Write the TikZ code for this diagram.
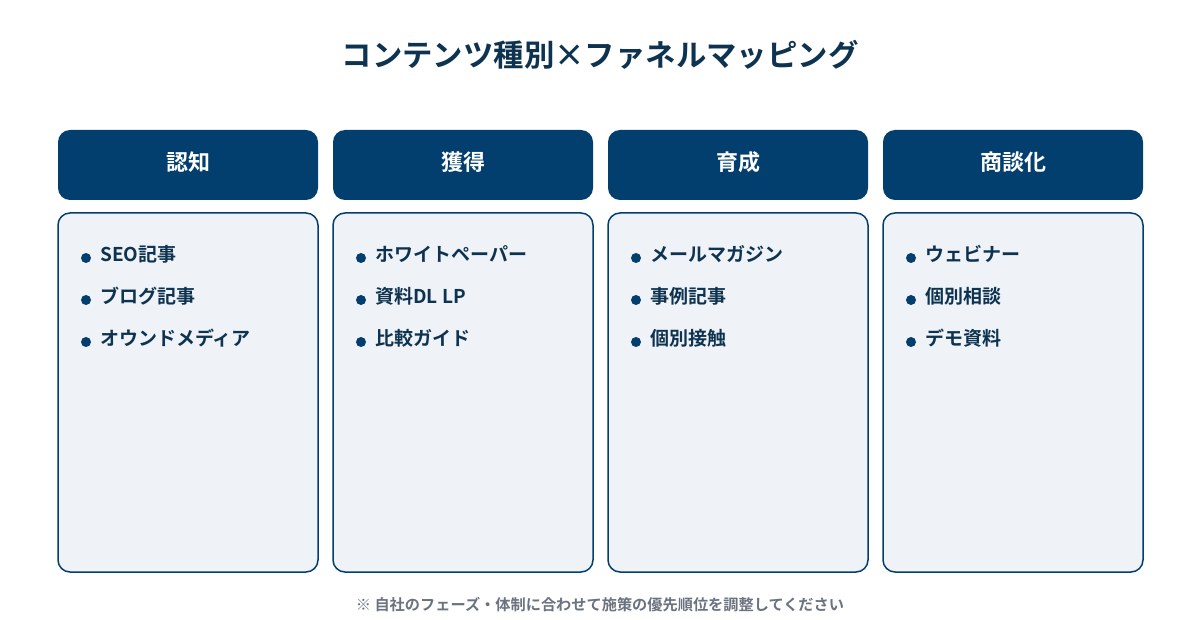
\documentclass[tikz,border=0pt]{standalone}
\usepackage{fontspec}
\setmainfont{Noto Sans CJK JP}[BoldFont={* Bold}]
\newfontfamily\jpb{Noto Sans CJK JP Bold}
\definecolor{titlec}{HTML}{0E3350}
\definecolor{headc}{HTML}{023F6E}
\definecolor{bodyfill}{HTML}{EFF3F8}
\definecolor{itemc}{HTML}{0E3350}
\definecolor{notec}{HTML}{6B7280}
\begin{document}
\begin{tikzpicture}[x=1pt,y=-1pt,
  headbox/.style={fill=headc,rounded corners=12pt},
  bodybox/.style={fill=bodyfill,draw=headc,line width=1.5pt,rounded corners=12pt},
  headtext/.style={text=white,font=\jpb\fontsize{22}{26}\selectfont,inner sep=0pt},
  itemtext/.style={text=itemc,font=\jpb\fontsize{19}{23}\selectfont,anchor=west,inner sep=0pt},
  dot/.style={circle,fill=headc,minimum size=10pt,inner sep=0pt}]
\useasboundingbox (0,0) rectangle (1200,620);
\fill[white] (0,0) rectangle (1200,620);
\node[text=titlec,font=\jpb\fontsize{30.4}{36}\selectfont,inner sep=0pt] (title) at (600,55) {コンテンツ種別×ファネルマッピング};
\foreach \i/\h/\a/\b/\c in {0/認知/SEO記事/ブログ記事/オウンドメディア,
                           1/獲得/ホワイトペーパー/資料DL LP/比較ガイド,
                           2/育成/メールマガジン/事例記事/個別接触,
                           3/商談化/ウェビナー/個別相談/デモ資料}{
  \pgfmathsetmacro{\xl}{58+275*\i}
  \pgfmathsetmacro{\xr}{\xl+260}
  \pgfmathsetmacro{\xc}{\xl+130}
  \fill[headbox] (\xl,130) rectangle (\xr,200);
  \node[headtext] (h\i) at (\xc,162) {\h};
  \draw[bodybox] (\xl,213) rectangle (\xr,572);
  \node[dot] (d\i a) at (\xl+28,258) {};
  \node[itemtext] (t\i a) at (\xl+42,254) {\a};
  \node[dot] (d\i b) at (\xl+28,300) {};
  \node[itemtext] (t\i b) at (\xl+42,296) {\b};
  \node[dot] (d\i c) at (\xl+28,342) {};
  \node[itemtext] (t\i c) at (\xl+42,338) {\c};
}
\node[text=notec,font=\jpb\fontsize{15.2}{18}\selectfont,inner sep=0pt] (note) at (600,605) {※ 自社のフェーズ・体制に合わせて施策の優先順位を調整してください};
\end{tikzpicture}
\end{document}
